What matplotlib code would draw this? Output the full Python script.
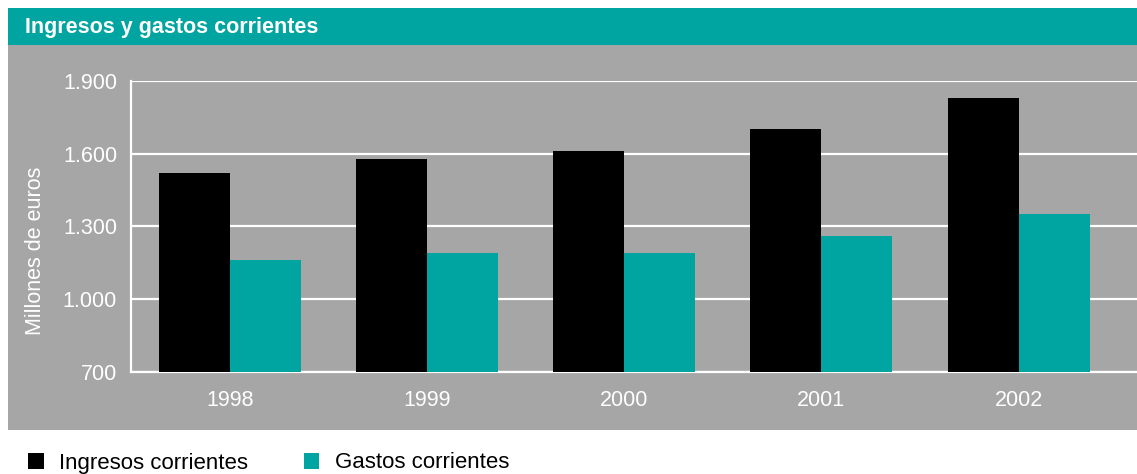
import matplotlib.pyplot as plt
import numpy as np
from matplotlib.patches import Rectangle

years = ["1998", "1999", "2000", "2001", "2002"]
ingresos = [1520, 1580, 1610, 1700, 1830]
gastos = [1160, 1190, 1190, 1260, 1350]
yticks = [700, 1000, 1300, 1600, 1900]
ytick_labels = ["700", "1.000", "1.300", "1.600", "1.900"]

TEAL = "#00a4a0"
GRAY = "#a6a6a6"
FONT = ["Liberation Sans", "DejaVu Sans"]

plt.rcParams["font.family"] = FONT

W, H = 1137, 474
fig = plt.figure(figsize=(W / 100, H / 100), dpi=100)
fig.patch.set_facecolor("white")

# gray panel and title bar (pixel coords converted to figure fraction)
def px(x0, y0, x1, y1):
    return (x0 / W, 1 - y1 / H, (x1 - x0) / W, (y1 - y0) / H)

gx, gy, gw, gh = px(8, 45, 1137, 430)
fig.patches.append(Rectangle((gx, gy), gw, gh, transform=fig.transFigure,
                             facecolor=GRAY, edgecolor="none", zorder=-5))
tx, ty, tw, th = px(8, 8, 1137, 45)
fig.patches.append(Rectangle((tx, ty), tw, th, transform=fig.transFigure,
                             facecolor=TEAL, edgecolor="none", zorder=-5))
fig.text(25 / W, 1 - 27 / H, "Ingresos y gastos corrientes", color="white",
         fontsize=15.5, fontweight="bold", va="center", ha="left")

ax = fig.add_axes([131 / W, 1 - 372 / H, (1137 - 131) / W, (372 - 81) / H])
ax.set_facecolor(GRAY)

x = np.arange(len(years))
bw = 0.36
b1 = ax.bar(x - bw / 2, ingresos, bw, color="black", label="Ingresos corrientes", zorder=3)
b2 = ax.bar(x + bw / 2, gastos, bw, color=TEAL, label="Gastos corrientes", zorder=3)

ax.set_ylim(700, 1900)
ax.set_xlim(-0.5, 4.6)
ax.set_yticks(yticks)
ax.set_yticklabels(ytick_labels)
ax.set_xticks(x)
ax.set_xticklabels(years)
ax.yaxis.grid(True, color="white", linewidth=1.6, zorder=1)
ax.tick_params(axis="both", length=0, colors="white", labelsize=15.5)
ax.tick_params(axis="y", pad=10)
ax.tick_params(axis="x", pad=13)

for s in ["top", "right"]:
    ax.spines[s].set_visible(False)
for s in ["left", "bottom"]:
    ax.spines[s].set_color("white")
    ax.spines[s].set_linewidth(1.6)

ax.set_ylabel("Millones de euros", color="white", fontsize=15.5)
ax.yaxis.set_label_coords(-0.0845, 0.416)

fig.legend(handles=[b1, b2], loc="center left", bbox_to_anchor=(8 / W, 1 - 463 / H),
           ncol=2, frameon=False, fontsize=16, handlelength=0.7, handleheight=0.7,
           handletextpad=0.7, columnspacing=2.5)

fig.savefig("out.png", dpi=100)
